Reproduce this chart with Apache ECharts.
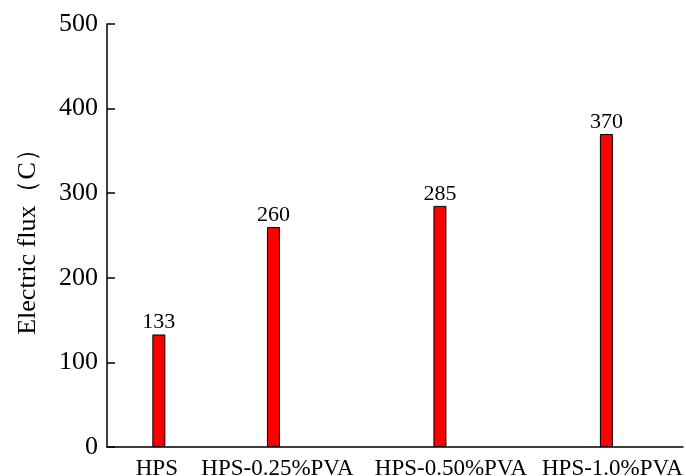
<!DOCTYPE html>
<html>
<head>
<meta charset="utf-8">
<script src="https://cdn.jsdelivr.net/npm/echarts@6/dist/echarts.min.js"></script>
<style>
  html, body { margin: 0; padding: 0; background: #fff; }
  #chart { width: 686px; height: 476px; }
</style>
</head>
<body>
<div id="chart"></div>
<script>
// data
const categories = ["HPS", "HPS-0.25%PVA", "HPS-0.50%PVA", "HPS-1.0%PVA"];
const fluxValues = [133, 260, 285, 370];
const yTicks = [0, 100, 200, 300, 400, 500];

// where each group sits along the x axis (the original spacing is uneven)
const xSlots = [0.9, 2.89, 5.78, 8.67];
// the labels in the original are not quite centred under their bars
const labelShift = [-2, 4, 11, 6];

const FONT = "Liberation Serif";

const rich = {};
labelShift.forEach((s, i) => {
  rich["c" + i] = {
    color: "#000",
    fontFamily: FONT,
    fontSize: 23,
    padding: s >= 0 ? [0, 0, 0, 2 * s] : [0, -2 * s, 0, 0],
  };
});

const chart = echarts.init(document.getElementById("chart"));

chart.setOption({
  animation: false,
  grid: { left: 107, right: 3, top: 24, bottom: 29, outerBoundsMode: "none", containLabel: false },
  xAxis: {
    type: "value",
    min: 0,
    max: 10,
    axisLine: { show: true, lineStyle: { color: "#000", width: 1.5 } },
    axisTick: { show: false },
    splitLine: { show: false },
    axisLabel: {
      customValues: xSlots,
      formatter: (v) => {
        const i = xSlots.findIndex((s) => Math.abs(s - v) < 1e-6);
        return i >= 0 ? "{c" + i + "|" + categories[i] + "}" : "";
      },
      rich: rich,
      color: "#000",
      fontFamily: FONT,
      fontSize: 23,
      margin: 10,
    },
  },
  yAxis: {
    type: "value",
    min: yTicks[0],
    max: yTicks[yTicks.length - 1],
    interval: 100,
    name: "Electric flux（C）",
    nameLocation: "middle",
    nameGap: 66,
    nameTextStyle: { color: "#000", fontFamily: FONT, fontSize: 26 },
    axisLine: { show: true, lineStyle: { color: "#000", width: 1.5 } },
    axisTick: { show: true, inside: true, length: 8, lineStyle: { color: "#000", width: 1.5 } },
    splitLine: { show: false },
    axisLabel: { color: "#000", fontFamily: FONT, fontSize: 26, margin: 9 },
  },
  series: [
    {
      type: "bar",
      barWidth: 13,
      data: fluxValues.map((v, i) => [xSlots[i], v]),
      itemStyle: { color: "#ff0000", borderColor: "#000", borderWidth: 1 },
      label: {
        show: true,
        position: "top",
        distance: 1,
        color: "#000",
        fontFamily: FONT,
        fontSize: 22,
        formatter: (p) => String(p.value[1]),
      },
    },
  ],
});
</script>
</body>
</html>
